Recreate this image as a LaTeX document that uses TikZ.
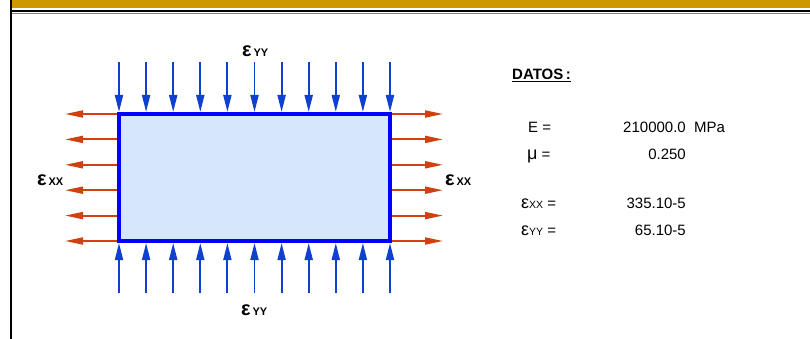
\documentclass[tikz,border=0pt]{standalone}
\usepackage{fontspec}
\setmainfont{Liberation Sans}
\usetikzlibrary{arrows.meta,positioning,calc}
\definecolor{headergold}{RGB}{204,153,0}
\definecolor{platefill}{RGB}{214,230,252}
\definecolor{pushblue}{RGB}{16,64,208}
\definecolor{pullred}{RGB}{208,64,16}
\definecolor{edgeblue}{RGB}{0,0,255}

\begin{document}
\begin{tikzpicture}[x=1pt,y=-1pt,
  push/.style={pushblue, line width=1.9pt, -{Triangle[length=17pt,width=8pt]}},
  pull/.style={pullred, line width=1.9pt, -{Triangle[length=18pt,width=7pt]}},
  strainlbl/.style={anchor=base west, inner sep=0pt, font=\bfseries},
  datum/.style={inner sep=0pt, font=\fontsize{15}{18}\selectfont}]
\useasboundingbox (0,0) rectangle (810,339);

% frame
\fill[headergold] (12,0) rectangle (810,8.5);
\draw[black, line width=2pt] (12,11) -- (810,11);
\draw[gray, line width=0.6pt] (12,13.3) -- (810,13.3);
\draw[black, line width=2pt] (10.5,0) -- (10.5,339);

% plate and loads
\node[draw=edgeblue, line width=4pt, fill=platefill, minimum width=271pt,
  minimum height=127pt, inner sep=0pt, outer sep=0pt, anchor=north west] (plate) at (119,114) {};

\foreach \i in {0,...,10}{
  \coordinate (top\i) at ($(plate.north west)!\i/10!(plate.north east)$);
  \coordinate (bot\i) at ($(plate.south west)!\i/10!(plate.south east)$);
  \draw[push] ($(top\i)+(0,-52)$) -- ($(top\i)+(0,-2)$);
  \draw[push] ($(bot\i)+(0,52)$) -- ($(bot\i)+(0,2)$);
}
\foreach \j in {0,...,5}{
  \coordinate (lft\j) at ($(plate.north west)!\j/5!(plate.south west)$);
  \coordinate (rgt\j) at ($(plate.north east)!\j/5!(plate.south east)$);
  \draw[pull] ($(lft\j)+(-2,0)$) -- ($(lft\j)+(-54,0)$);
  \draw[pull] ($(rgt\j)+(2,0)$) -- ($(rgt\j)+(53,0)$);
}

\node[strainlbl] (eyytop) at (242,57) {\fontsize{20}{20}\selectfont ε\fontsize{11}{11}\selectfont\,YY};
\node[strainlbl] (eyybot) at (241,315) {\fontsize{20}{20}\selectfont ε\fontsize{11}{11}\selectfont\,YY};
\node[strainlbl] (exxlft) at (37,185) {\fontsize{20}{20}\selectfont ε\fontsize{11}{11}\selectfont\,XX};
\node[strainlbl] (exxrgt) at (445,185) {\fontsize{20}{20}\selectfont ε\fontsize{11}{11}\selectfont\,XX};

% data
\node[datum, anchor=base west] (datos) at (512,80) {\bfseries\underline{DATOS\,:}};
\node[datum, anchor=base west] (elab) at (528,133) {E =};
\node[datum, anchor=base west] (mulab) at (527,160) {{\fontsize{18}{18}\selectfont μ} =};
\node[datum, anchor=base west] (exxlab) at (521,208) {{\fontsize{18}{18}\selectfont ε}{\fontsize{10.5}{10.5}\selectfont XX} =};
\node[datum, anchor=base west] (eyylab) at (521,235) {{\fontsize{18}{18}\selectfont ε}{\fontsize{10.5}{10.5}\selectfont YY} =};
\node[datum, anchor=base east] (eval) at (686,133) {210000.0};
\node[datum, anchor=base west] (eunit) at (694,133) {MPa};
\node[datum, anchor=base east] (muval) at (686,160) {0.250};
\node[datum, anchor=base east] (exxval) at (686,208) {335.10-5};
\node[datum, anchor=base east] (eyyval) at (686,235) {65.10-5};
\end{tikzpicture}
\end{document}
